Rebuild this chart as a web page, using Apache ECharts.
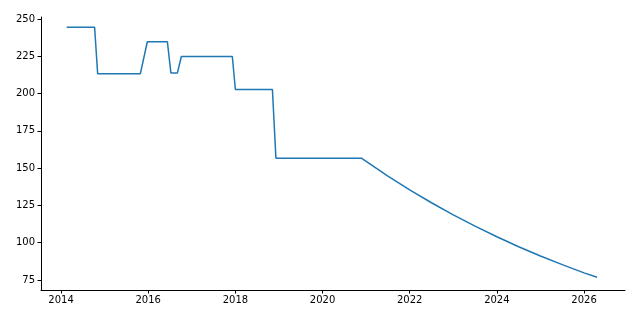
<!DOCTYPE html>
<html>
<head>
<meta charset="utf-8">
<script src="https://cdn.jsdelivr.net/npm/echarts@6/dist/echarts.min.js"></script>
<style>html,body{margin:0;padding:0;background:#fff;}#c{width:640px;height:320px;}</style>
</head>
<body>
<div id="c"></div>
<script>
var years = [2014.13, 2014.77, 2014.84, 2015.82, 2015.98, 2016.44, 2016.52, 2016.67, 2016.76, 2017.93, 2018.00, 2018.85, 2018.93, 2020.90,
  2021.5, 2022.0, 2022.5, 2023.0, 2023.5, 2024.0, 2024.5, 2025.0, 2025.5, 2026.0, 2026.3];
var values = [244.4, 244.4, 213.3, 213.3, 234.7, 234.7, 213.8, 213.8, 224.8, 224.8, 202.7, 202.7, 156.6, 156.6,
  144.7, 135.4, 126.8, 118.7, 111.1, 104.0, 97.3, 91.1, 85.3, 79.8, 76.8];
var xTicks = [2014, 2016, 2018, 2020, 2022, 2024, 2026];
var yTicks = [75, 100, 125, 150, 175, 200, 225, 250];

var data = years.map(function (y, i) { return [y, values[i]]; });
var chart = echarts.init(document.getElementById('c'), null, {renderer: 'canvas'});
var axisText = {color: '#000', fontFamily: 'DejaVu Sans', fontSize: 10};
chart.setOption({
  animation: false,
  grid: {left: 41, right: 15, top: 17, bottom: 30},
  xAxis: {
    type: 'value', min: 2013.54, max: 2026.94,
    axisLine: {show: true, lineStyle: {color: '#000', width: 1}},
    axisTick: {show: true, length: 3.5, lineStyle: {color: '#000'}, customValues: xTicks},
    axisLabel: Object.assign({customValues: xTicks, margin: 5, formatter: function (v) { return String(v); }}, axisText),
    splitLine: {show: false}
  },
  yAxis: {
    type: 'value', min: 68.3, max: 251.3,
    axisLine: {show: true, lineStyle: {color: '#000', width: 1}},
    axisTick: {show: true, length: 3.5, lineStyle: {color: '#000'}, customValues: yTicks},
    axisLabel: Object.assign({customValues: yTicks, margin: 6}, axisText),
    splitLine: {show: false}
  },
  series: [{
    type: 'line', data: data, showSymbol: false, symbol: 'none',
    lineStyle: {color: '#1f77b4', width: 1.5}, smooth: false
  }]
});
</script>
</body>
</html>
